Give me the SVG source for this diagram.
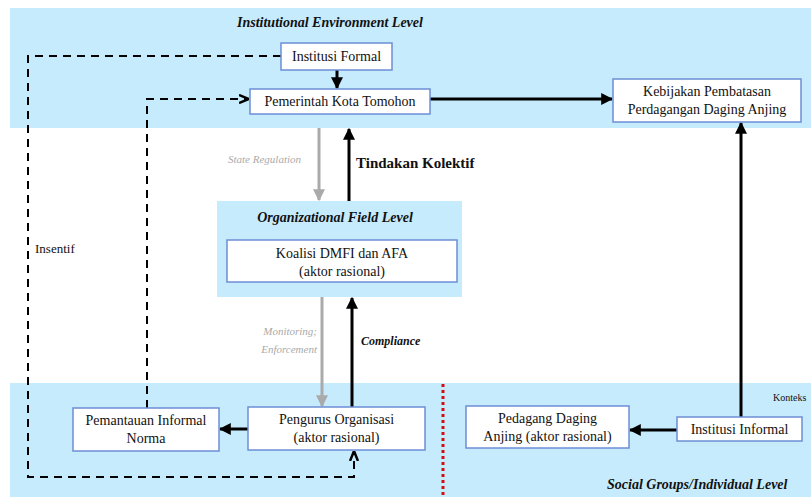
<svg xmlns="http://www.w3.org/2000/svg" width="811" height="497" viewBox="0 0 811 497">
<style>
text{font-family:'Liberation Serif','Times New Roman',Tinos,'DejaVu Serif',serif}
.band{fill:#c6ebfd}
.box{fill:#fff;stroke:#6c8fd6;stroke-width:1.5}
.t{font-size:14px;fill:#111;text-anchor:middle}
.lvl{font-size:14px;font-weight:bold;font-style:italic;fill:#111}
.grey{font-size:11px;font-style:italic;fill:#aaa}
.solid{stroke:#000;stroke-width:3;fill:none}
.gline{stroke:#aaa;stroke-width:3;fill:none}
.dash{stroke:#000;stroke-width:2;fill:none;stroke-dasharray:8 6}
</style>
<defs>
<marker id="ah" viewBox="0 0 10 10" refX="9" refY="5" markerWidth="4" markerHeight="4" orient="auto" markerUnits="strokeWidth"><path d="M0,0 L10,5 L0,10 z" fill="#000"/></marker>
<marker id="ahg" viewBox="0 0 10 10" refX="9" refY="5" markerWidth="4" markerHeight="4" orient="auto" markerUnits="strokeWidth"><path d="M0,0 L10,5 L0,10 z" fill="#aaa"/></marker>
<marker id="ahd" viewBox="0 0 10 10" refX="9" refY="5" markerWidth="5" markerHeight="5" orient="auto" markerUnits="strokeWidth"><path d="M0,1 L10,5 L0,9" fill="none" stroke="#000" stroke-width="2.5"/></marker>
</defs>
<rect width="811" height="497" fill="#fff"/>
<g id="bands">
<rect class="band" x="10" y="8" width="801" height="120"/>
<rect class="band" x="10" y="383" width="801" height="114"/>
<line x1="443" y1="384" x2="443" y2="497" stroke="#d01010" stroke-width="3" stroke-dasharray="3 3"/>
</g>
<g id="labels">
<text class="lvl" x="237" y="27">Institutional Environment Level</text>
<text class="lvl" x="607" y="489">Social Groups/Individual Level</text>
<text class="grey" x="228" y="163">State Regulation</text>
<text x="356" y="168" font-size="15" font-weight="bold" fill="#111">Tindakan Kolektif</text>
<text class="grey" x="317" y="335" text-anchor="end">Monitoring;</text>
<text class="grey" x="317" y="353" text-anchor="end">Enforcement</text>
<text x="361" y="345" font-size="12" font-weight="bold" font-style="italic" fill="#111">Compliance</text>
<text x="35" y="253" font-size="13" fill="#111">Insentif</text>
<text x="773" y="401" font-size="10" fill="#111">Konteks</text>
</g>
<g id="org-field">
<rect class="band" x="217" y="201" width="245" height="96"/>
<text class="lvl" x="335" y="222" text-anchor="middle">Organizational Field Level</text>
</g>
<g id="connectors">
<line class="solid" x1="337" y1="70" x2="337" y2="88" marker-end="url(#ah)"/>
<line class="solid" x1="430" y1="99" x2="612" y2="99" marker-end="url(#ah)"/>
<line class="solid" x1="741" y1="417" x2="741" y2="123" marker-end="url(#ah)"/>
<line class="gline" x1="319" y1="128" x2="319" y2="200" marker-end="url(#ahg)"/>
<line class="solid" x1="349" y1="201" x2="349" y2="129" marker-end="url(#ah)"/>
<line class="gline" x1="322" y1="297" x2="322" y2="406" marker-end="url(#ahg)"/>
<line class="solid" x1="352" y1="407" x2="352" y2="298" marker-end="url(#ah)"/>
<line class="solid" x1="248" y1="429" x2="220" y2="429" marker-end="url(#ah)"/>
<line class="solid" x1="677" y1="430" x2="630" y2="430" marker-end="url(#ah)"/>
<polyline class="dash" points="281,56 28,56 28,477 354,477 354,452" marker-end="url(#ahd)"/>
<polyline class="dash" points="147,408 147,99 248,99" marker-end="url(#ahd)"/>
</g>
<g id="institusi-formal">
<rect class="box" x="281" y="43" width="111" height="27"/>
<text class="t" x="336.5" y="61">Institusi Formal</text>
</g>
<g id="pemerintah">
<rect class="box" x="250" y="89" width="180" height="25"/>
<text class="t" x="340" y="106">Pemerintah Kota Tomohon</text>
</g>
<g id="kebijakan">
<rect class="box" x="613" y="79" width="188" height="43"/>
<text class="t" x="707" y="96">Kebijakan Pembatasan</text>
<text class="t" x="707" y="114">Perdagangan Daging Anjing</text>
</g>
<g id="koalisi">
<rect class="box" x="227" y="240" width="230" height="42"/>
<text class="t" x="342" y="258">Koalisi DMFI dan AFA</text>
<text class="t" x="342" y="276">(aktor rasional)</text>
</g>
<g id="pemantauan">
<rect class="box" x="73" y="408" width="146" height="43"/>
<text class="t" x="146" y="425">Pemantauan Informal</text>
<text class="t" x="146" y="443">Norma</text>
</g>
<g id="pengurus">
<rect class="box" x="248" y="407" width="177" height="43"/>
<text class="t" x="336.5" y="424">Pengurus Organisasi</text>
<text class="t" x="336.5" y="442">(aktor rasional)</text>
</g>
<g id="pedagang">
<rect class="box" x="466" y="406" width="163" height="42"/>
<text class="t" x="547.5" y="423">Pedagang Daging</text>
<text class="t" x="547.5" y="441">Anjing (aktor rasional)</text>
</g>
<g id="institusi-informal">
<rect class="box" x="677" y="417" width="125" height="24"/>
<text class="t" x="739.5" y="434">Institusi Informal</text>
</g>
</svg>
